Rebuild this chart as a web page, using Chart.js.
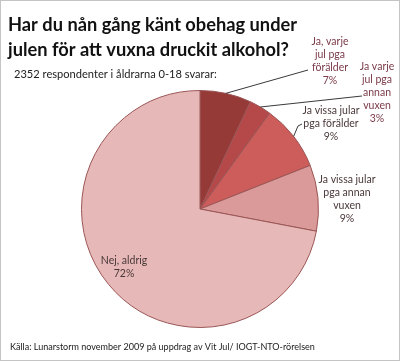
<!DOCTYPE html>
<html>
<head>
<meta charset="utf-8">
<script src="https://cdn.jsdelivr.net/npm/chart.js@4.4.0/dist/chart.umd.min.js"></script>
<style>
  html, body { margin: 0; padding: 0; background: #fff; }
  #wrap { width: 400px; height: 361px; position: relative; }
</style>
</head>
<body>
<div id="wrap"><canvas id="pie"></canvas></div>
<script>
// data
const categories = [
  'Ja, varje jul pga förälder',
  'Ja varje jul pga annan vuxen',
  'Ja vissa jular pga förälder',
  'Ja vissa jular pga annan vuxen',
  'Nej, aldrig'
];
const shares = [7, 3, 9, 9, 72];
// how each category label is broken over lines in the picture
const labelLines = [
  ['Ja, varje', 'jul pga', 'förälder'],
  ['Ja varje', 'jul pga', 'annan', 'vuxen'],
  ['Ja vissa jular', 'pga förälder'],
  ['Ja vissa jular', 'pga annan', 'vuxen'],
  ['Nej, aldrig']
];
const titleLines = ['Har du nån gång känt obehag under', 'julen för att vuxna druckit alkohol?'];
const subtitleText = '2352 respondenter i åldrarna 0-18 svarar:';
const footerText = 'Källa: Lunarstorm november 2009 på uppdrag av Vit Jul/ IOGT-NTO-rörelsen';

const sliceColors = ['#963a38', '#b5494a', '#cd5d5b', '#d99a99', '#e6b9b8'];
const fontFam = 'Lato, "Open Sans", sans-serif';

// label placement, offsets from pie centre (px); lx/ly = where the leader line ends
const labelSpots = [
  { dx: 130, dy: -167, leader: true, lx: 108, ly: -139 },
  { dx: 177, dy: -142, leader: true, lx: 162, ly: -113 },
  { dx: 131, dy: -98, leader: true, lx: 100, ly: -85, hook: true },
  { dx: 147, dy: -29, leader: false },
  { dx: -76, dy: 52, leader: false }
];

// pick a font size so the text spans about the given width
function fitFont(c, text, weight, width) {
  let size = 20;
  c.font = weight + ' ' + size + 'px ' + fontFam;
  size = size * width / c.measureText(text).width;
  c.font = weight + ' ' + size.toFixed(2) + 'px ' + fontFam;
}

const textPlugin = {
  id: 'texts',
  beforeDraw(chart) {
    const c = chart.ctx;
    c.save();
    c.fillStyle = '#fff';
    c.fillRect(0, 0, chart.width, chart.height);
    c.restore();
  },
  afterDraw(chart) {
    const c = chart.ctx;
    c.save();
    // frame
    c.strokeStyle = '#c4c4c4';
    c.lineWidth = 1;
    c.strokeRect(0.5, 0.5, chart.width - 1, chart.height - 1);

    c.fillStyle = '#111';
    c.textAlign = 'left';
    c.textBaseline = 'middle';
    fitFont(c, titleLines[0], 'bold', 289);
    c.fillText(titleLines[0], 8, 25);
    c.fillText(titleLines[1], 8, 50);
    c.fillStyle = '#222';
    fitFont(c, subtitleText, 'normal', 203);
    c.fillText(subtitleText, 14, 74);
    fitFont(c, footerText, 'normal', 305);
    c.fillText(footerText, 10, 347);

    const meta = chart.getDatasetMeta(0);
    const arc0 = meta.data[0];
    const cx = arc0.x, cy = arc0.y, r = arc0.outerRadius;
    c.font = '10.5px ' + fontFam;
    c.textAlign = 'center';
    meta.data.forEach((arc, i) => {
      const spot = labelSpots[i];
      const lines = labelLines[i].concat([shares[i] + '%']);
      c.fillStyle = i < 2 ? '#7a3a48' : '#4a3838';
      lines.forEach((t, k) => {
        c.fillText(t, cx + spot.dx, cy + spot.dy + k * 13);
      });
      if (spot.leader) {
        const mid = (arc.startAngle + arc.endAngle) / 2;
        const ex = cx + Math.cos(mid) * r;
        const ey = cy + Math.sin(mid) * r;
        c.strokeStyle = '#3a3a3a';
        c.beginPath();
        c.moveTo(ex, ey);
        if (spot.hook) {
          c.lineTo(cx + spot.lx - 2, cy + spot.ly + 2);
          c.lineTo(cx + spot.lx + 2, cy + spot.ly);
        } else {
          c.lineTo(cx + spot.lx, cy + spot.ly);
        }
        c.stroke();
      }
    });
    c.restore();
  }
};

new Chart(document.getElementById('pie'), {
  type: 'pie',
  data: {
    labels: categories,
    datasets: [{
      data: shares,
      backgroundColor: sliceColors,
      borderColor: '#9b5656',
      borderWidth: 1
    }]
  },
  options: {
    responsive: true,
    maintainAspectRatio: false,
    animation: false,
    layout: { padding: { top: 90, bottom: 33, left: 81, right: 81 } },
    plugins: {
      legend: { display: false },
      tooltip: { enabled: false }
    }
  },
  plugins: [textPlugin]
});
</script>
</body>
</html>
